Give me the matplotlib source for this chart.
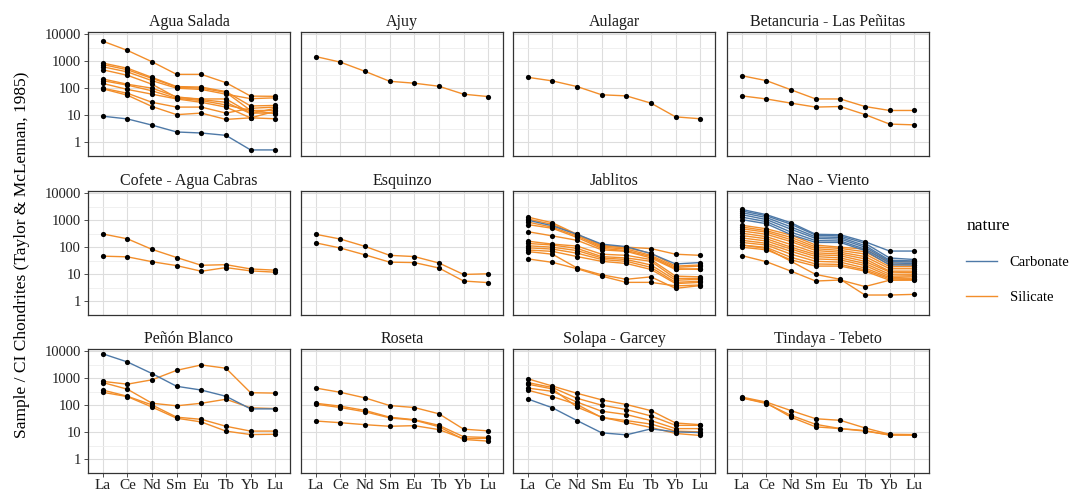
import matplotlib
matplotlib.use("Agg")
import matplotlib.pyplot as plt
from matplotlib.lines import Line2D

elements = ['La', 'Ce', 'Nd', 'Sm', 'Eu', 'Tb', 'Yb', 'Lu']

# chondrite-normalised REE patterns, one list per sample
agua_salada_carb = [[9.2, 7.3, 4.3, 2.4, 2.2, 1.8, 0.52, 0.52]]
agua_salada_sil = [
    [5500, 2500, 950, 325, 325, 160, 51, 50],
    [850, 550, 250, 115, 110, 75, 22, 23],
    [750, 480, 230, 110, 100, 70, 15, 15],
    [620, 400, 190, 100, 90, 60, 41, 44],
    [480, 300, 140, 45, 40, 40, 12, 12],
    [220, 140, 100, 48, 38, 30, 11.5, 18],
    [190, 130, 80, 42, 35, 24, 15, 11.5],
    [150, 90, 60, 40, 30, 20, 8, 14],
    [100, 65, 30, 20, 20, 12, 18, 20],
    [95, 55, 21, 10.5, 12, 7, 8, 7.4],
]
ajuy_sil = [[1480, 920, 420, 180, 153, 118, 60, 49]]
aulagar_sil = [[253, 186, 115, 57, 52, 28, 8.7, 7.4]]
betancuria_sil = [
    [290, 190, 87, 40, 40, 21, 15, 15],
    [52, 40, 28, 20, 21, 10.6, 4.7, 4.4],
]
cofete_sil = [
    [309, 204, 83, 41.5, 21.4, 22.6, 15.7, 14.1],
    [46.6, 44, 29, 20.8, 12.9, 17.6, 13.3, 11.9],
]
esquinzo_sil = [
    [300, 200, 107, 50, 45, 26, 9.8, 10.4],
    [145, 93, 52, 28, 27, 17, 5.6, 4.9],
]
jablitos_carb = [[1000, 620, 300, 130, 105, 58, 24, 27]]
jablitos_sil = [
    [1300, 800, 300, 120, 100, 89, 55, 50],
    [1100, 700, 290, 110, 95, 60, 20, 22],
    [850, 550, 260, 100, 85, 50, 18, 20],
    [690, 500, 230, 90, 75, 45, 16, 15],
    [375, 262, 180, 80, 70, 40, 15, 16],
    [167, 130, 110, 55, 50, 35, 8.5, 8],
    [138, 120, 90, 45, 40, 30, 7, 7],
    [113, 100, 75, 40, 35, 22, 6, 6.5],
    [95, 85, 60, 35, 30, 18, 5, 5.5],
    [79, 70, 45, 30, 25, 15, 4.5, 5],
    [69, 55, 17, 9.5, 6.5, 8, 3.0, 3.8],
    [37, 27.5, 16, 8.5, 5, 5, 3.7, 4],
]
nao_viento_carb = [
    [2500, 1600, 800, 300, 290, 160, 72, 72],
    [2200, 1450, 700, 280, 260, 140, 40, 35],
    [1900, 1250, 560, 240, 230, 115, 33, 31],
    [1600, 1050, 460, 210, 200, 100, 30, 28],
    [1300, 880, 360, 175, 170, 85, 26, 25],
    [1050, 740, 290, 150, 150, 75, 22, 22],
]
nao_viento_sil = [
    [650, 480, 280, 120, 100, 85, 28, 30],
    [560, 410, 230, 102, 90, 68, 23, 22],
    [480, 360, 190, 88, 76, 56, 19, 19],
    [400, 300, 160, 75, 65, 45, 16, 16],
    [330, 245, 125, 62, 56, 37, 13, 13],
    [270, 205, 100, 53, 48, 30, 12, 11.5],
    [220, 170, 85, 45, 40, 25, 10, 10],
    [180, 140, 70, 37, 34, 21, 8.5, 8.8],
    [150, 120, 55, 30, 28, 17, 7.5, 8],
    [120, 98, 42, 24, 23, 14.5, 6.8, 6.8],
    [100, 80, 34, 20, 20, 13, 6, 6],
    [49, 29, 13, 5.6, 6.1, 3.5, 6, 6.5],
    [120, 90, 30, 9.8, 6.5, 1.7, 1.7, 1.8],
]
penon_carb = [[7950, 3980, 1480, 500, 363, 214, 73, 73]]
penon_sil = [
    [760, 600, 870, 1950, 3090, 2330, 290, 280],
    [690, 390, 118, 95, 118, 166, 80, 75],
    [363, 214, 102, 36, 30, 16.6, 11, 11],
    [300, 208, 85, 33, 24, 11, 8.2, 8.4],
]
roseta_sil = [
    [430, 300, 186, 97, 82, 48, 13, 11.2],
    [118, 92, 64, 36, 29, 18, 6.8, 6.4],
    [109, 82, 57, 34, 28, 16, 5.4, 4.7],
    [26, 22.5, 19, 16.6, 17.5, 12.5, 5.7, 6],
]
solapa_carb = [[170, 80, 27, 9.5, 8, 13.3, 10.3, 9.7]]
solapa_sil = [
    [950, 510, 275, 158, 106, 63, 22, 19],
    [690, 450, 180, 100, 69, 40, 18, 18],
    [430, 325, 130, 60, 45, 27, 13.6, 13.6],
    [360, 208, 106, 35, 27, 20, 11, 10.3],
    [600, 400, 85, 36, 23, 15, 9, 7.6],
]
tindaya_sil = [
    [200, 130, 63, 31.6, 27.5, 14.4, 8.4, 8.2],
    [185, 115, 42, 19.6, 13.6, 11, 8, 8],
    [190, 120, 36, 15.8, 13.6, 11.5, 7.8, 7.8],
]

panels = [
    ('Agua Salada', agua_salada_carb, agua_salada_sil),
    ('Ajuy', [], ajuy_sil),
    ('Aulagar', [], aulagar_sil),
    ('Betancuria - Las Peñitas', [], betancuria_sil),
    ('Cofete - Agua Cabras', [], cofete_sil),
    ('Esquinzo', [], esquinzo_sil),
    ('Jablitos', jablitos_carb, jablitos_sil),
    ('Nao - Viento', nao_viento_carb, nao_viento_sil),
    ('Peñón Blanco', penon_carb, penon_sil),
    ('Roseta', [], roseta_sil),
    ('Solapa - Garcey', solapa_carb, solapa_sil),
    ('Tindaya - Tebeto', [], tindaya_sil),
]

carb_color = '#4E79A7'
sil_color = '#F28E2B'

plt.rcParams['font.family'] = ['Liberation Serif', 'DejaVu Serif']

W, H = 1080, 496
fig = plt.figure(figsize=(W / 100, H / 100), dpi=100)

lefts = [88, 301, 513, 727]
tops = [32, 191, 349]
pw, ph = 202, 124

x = list(range(len(elements)))
for i, (name, carb, sil) in enumerate(panels):
    r, c = divmod(i, 4)
    ax = fig.add_axes([lefts[c] / W, 1 - (tops[r] + ph) / H, pw / W, ph / H])
    ax.set_yscale('log')
    ax.set_ylim(0.31, 12000)
    ax.set_xlim(-0.6, 7.6)
    for s in sil:
        ax.plot(x, s, color=sil_color, lw=1.0, zorder=2)
    for s in carb:
        ax.plot(x, s, color=carb_color, lw=1.0, zorder=2)
    for s in sil + carb:
        ax.scatter(x, s, s=14, color='black', zorder=3, linewidths=0)

    ax.set_yticks([1, 10, 100, 1000, 10000])
    ax.set_yticks([0.316, 3.16, 31.6, 316, 3162], minor=True)
    ax.set_xticks(x)
    ax.grid(True, which='major', color='#dddddd', lw=0.8)
    ax.grid(True, which='minor', axis='y', color='#eeeeee', lw=0.6)
    ax.set_axisbelow(True)
    ax.tick_params(which='minor', length=0)
    ax.tick_params(which='major', length=3, color='#333333', width=0.6)
    for sp in ax.spines.values():
        sp.set_color('#333333')
        sp.set_linewidth(0.9)

    if c == 0:
        ax.set_yticklabels(['1', '10', '100', '1000', '10000'], fontsize=10.5, color='#222222')
    else:
        ax.tick_params(axis='y', which='both', left=False, labelleft=False)
    if r == 2:
        ax.set_xticklabels(elements, fontsize=11, color='#222222')
        ax.tick_params(axis='x', pad=1.5)
    else:
        ax.tick_params(axis='x', bottom=False, labelbottom=False)
    ax.tick_params(axis='y', pad=2)
    ax.set_title(name, fontsize=11.5, pad=4, color='#1a1a1a')

fig.text(22 / W, 1 - 255 / H, 'Sample / CI Chondrites (Taylor & McLennan, 1985)',
         rotation=90, ha='center', va='center', fontsize=12.5)

handles = [Line2D([], [], color=carb_color, lw=1.0),
           Line2D([], [], color=sil_color, lw=1.0)]
leg = fig.legend(handles, ['Carbonate', 'Silicate'], title='nature',
                 loc='upper left', bbox_to_anchor=(953 / W, 1 - 205 / H),
                 frameon=False, fontsize=10.5, title_fontsize=12.5,
                 handlelength=2.1, labelspacing=1.5, handletextpad=0.9)
leg._legend_box.align = 'left'

fig.savefig('out.png', dpi=100)
